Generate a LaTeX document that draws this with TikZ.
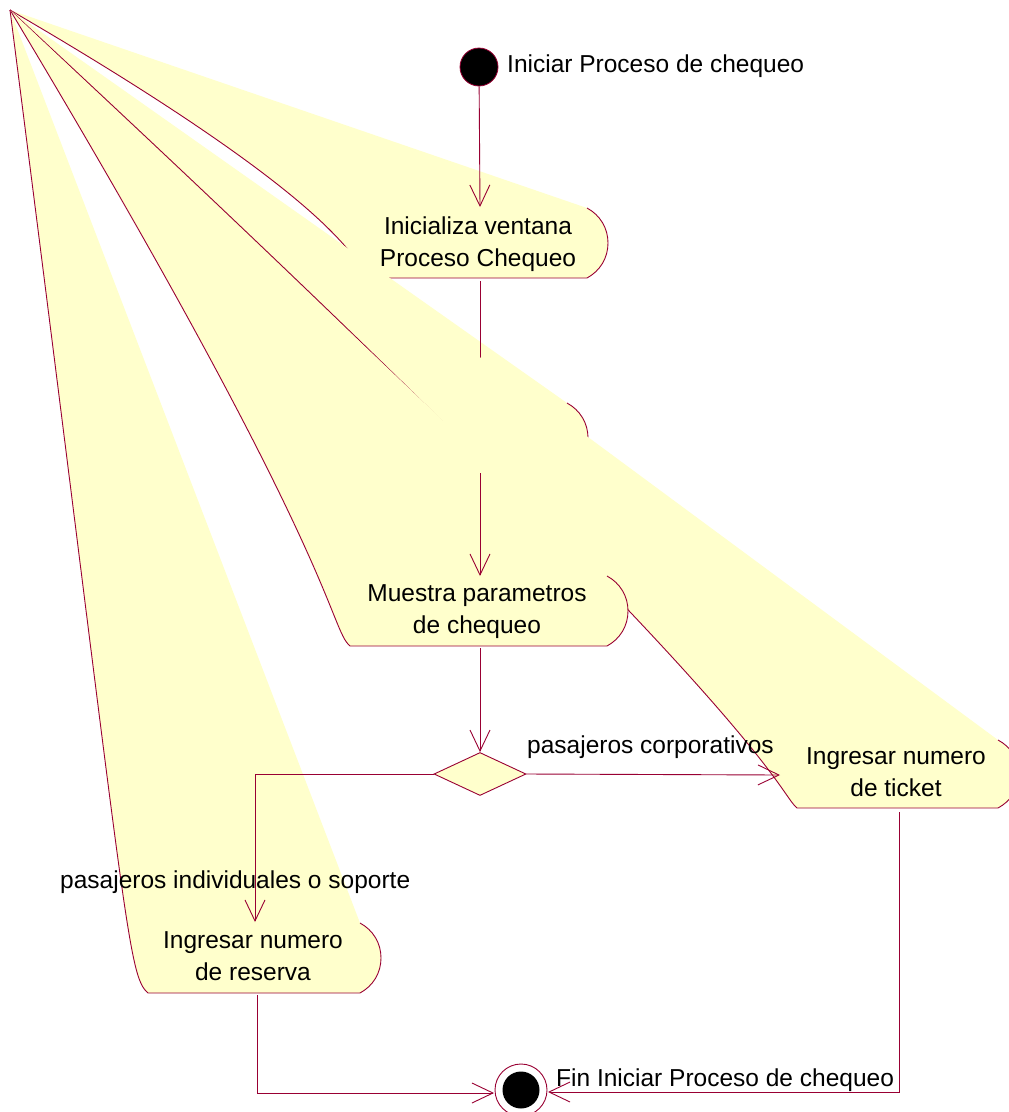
\documentclass[tikz,border=0pt]{standalone}
\usepackage{fontspec}
\setmainfont{Liberation Sans}
\usetikzlibrary{arrows.meta,shapes.geometric}
\definecolor{rosered}{RGB}{153,0,51}
\definecolor{actfill}{RGB}{255,255,204}

\tikzset{
  wire/.style={draw=rosered, line width=0.9pt},
  flow/.style={wire, -{Straight Barb[length=21pt, width=20pt, line width=0.9pt]}},
  acttext/.style={font=\fontsize{24.5}{31.5}\selectfont, align=center, inner sep=0pt, anchor=base},
  guard/.style={font=\fontsize{24.5}{29}\selectfont, inner sep=0pt, anchor=base west},
}

% Activity outline whose upper-left corner collapsed onto the point (10,10):
% #1 left x, #2 right x, #3 top y, #4 bottom y, #5/#6 upper control of the left curve
\newcommand\rosestate[6]{%
  \fill[actfill] (10,10) -- (#2,#3)
    .. controls ({#2+13},{#3+7}) and ({#2+21},{(#3+#4)/2-15}) .. ({#2+21},{(#3+#4)/2})
    .. controls ({#2+21},{(#3+#4)/2+15}) and ({#2+13},{#4-7}) .. (#2,#4)
    -- (#1,#4) .. controls ({#1-21},{#4-18}) and (#5,#6) .. (10,10) -- cycle;
  \draw[wire] (#2,#3)
    .. controls ({#2+13},{#3+7}) and ({#2+21},{(#3+#4)/2-15}) .. ({#2+21},{(#3+#4)/2})
    .. controls ({#2+21},{(#3+#4)/2+15}) and ({#2+13},{#4-7}) .. (#2,#4)
    -- (#1,#4) .. controls ({#1-21},{#4-18}) and (#5,#6) .. (10,10);
}

\begin{document}
\begin{tikzpicture}[x=1pt, y=-1pt]
  \useasboundingbox (0,0) rectangle (1009,1112);
  \fill[white] (0,0) rectangle (1009,1112);
  \clip (0,0) rectangle (1009,1112);

  % initial state
  \node[circle, fill=black, draw=rosered, line width=0.8pt, minimum size=38pt, inner sep=0pt] (start) at (479,67) {};
  \node[guard] (startlbl) at (507,72) {Iniciar Proceso de chequeo};

  % Inicializa ventana
  \rosestate{371}{587}{208}{278}{350}{208}
  \node[acttext] (ini) at (478,266) {Inicializa ventana\\Proceso Chequeo};
  \coordinate (ini-n) at (480,207);
  \coordinate (ini-s) at (480,281);
  \draw[flow] (start) -- (ini-n);

  % unnamed intermediate activity
  \rosestate{393}{567}{403}{473}{372}{403}
  \coordinate (mid-n) at (480,403);
  \coordinate (mid-s) at (480,473);
  \draw[flow] (ini-s) -- (mid-n);

  % Ingresar numero de ticket
  \rosestate{797}{998}{740}{808}{776}{721}
  \node[acttext] (tic) at (896,796) {Ingresar numero\\de ticket};
  \coordinate (tic-w) at (780,775);
  \coordinate (tic-s) at (899,812);

  % Muestra parametros de chequeo
  \rosestate{350}{607}{576}{646}{340}{560}
  \node[acttext] (mue) at (477,633) {Muestra parametros\\de chequeo};
  \coordinate (mue-n) at (480,576);
  \coordinate (mue-s) at (480,648);
  \draw[flow] (mid-s) -- (mue-n);

  % Ingresar numero de reserva
  \rosestate{148}{360}{923}{993}{127}{923}
  \node[acttext] (res) at (253,980) {Ingresar numero\\de reserva};
  \coordinate (res-n) at (255,922);
  \coordinate (res-s) at (257,995);

  % decision
  \node[diamond, fill=actfill, draw=rosered, line width=0.9pt, minimum width=92pt, minimum height=43pt, inner sep=0pt] (dec) at (480,774) {};
  \draw[flow] (mue-s) -- (dec.north);
  \draw[flow] (dec.east) -- (tic-w);
  \draw[flow] (dec.west) -| (res-n);
  \node[guard] (g1) at (527,753) {pasajeros corporativos};
  \node[guard] (g2) at (60,888) {pasajeros individuales o soporte};

  % final state
  \node[circle, draw=rosered, line width=0.9pt, minimum size=52pt, inner sep=0pt] (fin) at (521,1090) {};
  \node[circle, fill=black, minimum size=37pt, inner sep=0pt] (findot) at (fin) {};
  \coordinate (fin-w) at (494,1093);
  \coordinate (fin-e) at (548,1092);
  \draw[flow] (res-s) |- (fin-w);
  \draw[flow] (tic-s) |- (fin-e);
  \node[guard] (finlbl) at (556,1086) {Fin Iniciar Proceso de chequeo};
\end{tikzpicture}
\end{document}
